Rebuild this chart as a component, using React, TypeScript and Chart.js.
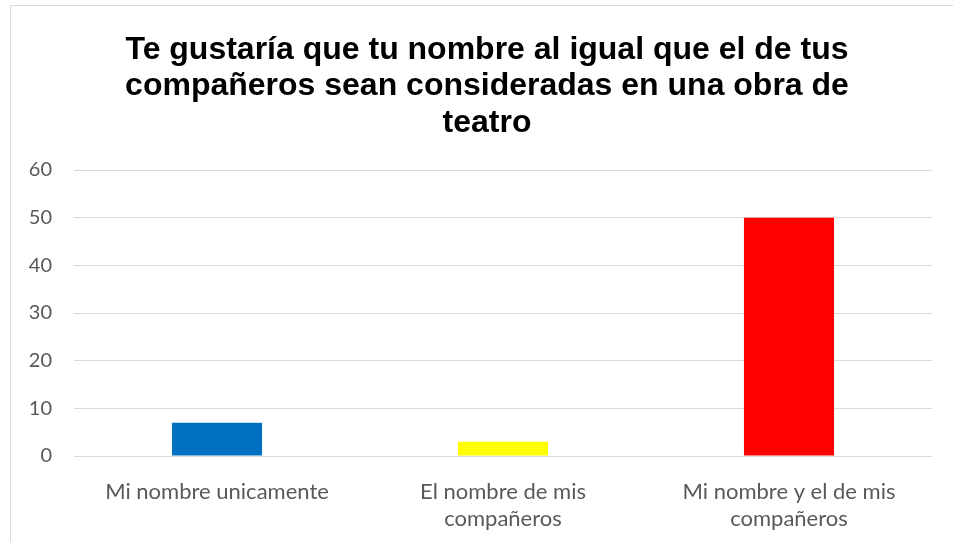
import { useEffect, useRef } from 'react';
import { Chart, registerables } from 'chart.js';

Chart.register(...registerables);

const categories: string[][] = [
  ['Mi nombre unicamente'],
  ['El nombre de mis', 'compañeros'],
  ['Mi nombre y el de mis', 'compañeros'],
];
const values: number[] = [7, 3, 50];
const barColors: string[] = ['#0070C0', '#FFFF00', '#FF0000'];
const titleLines: string[] = [
  'Te gustaría que tu nombre al igual que el de tus',
  'compañeros sean consideradas en una obra de',
  'teatro',
];
const yMin = 0;
const yMax = 60;
const yStep = 10;

const titlePlugin = {
  id: 'excelTitle',
  afterDraw(chart: any) {
    const ctx = chart.ctx;
    ctx.save();
    ctx.font = 'bold 32px "Liberation Sans", Arial, sans-serif';
    ctx.fillStyle = '#000000';
    ctx.textAlign = 'center';
    ctx.textBaseline = 'middle';
    titleLines.forEach((line, i) => {
      ctx.fillText(line, 487, 50 + i * 36.5);
    });
    ctx.restore();
  },
};

export default function App() {
  const ref = useRef<HTMLCanvasElement | null>(null);
  useEffect(() => {
    if (!ref.current) return;
    const chart = new Chart(ref.current, {
      type: 'bar',
      data: {
        labels: categories,
        datasets: [
          {
            data: values,
            backgroundColor: barColors,
            borderWidth: 0,
            barPercentage: 0.315,
            categoryPercentage: 1,
          },
        ],
      },
      options: {
        animation: false,
        responsive: false,
        maintainAspectRatio: false,
        layout: { padding: { left: 20, right: 21, top: 170, bottom: 0 } },
        plugins: {
          legend: { display: false },
          title: { display: false },
          tooltip: { enabled: false },
        },
        scales: {
          x: {
            grid: { display: false, drawTicks: false },
            border: { display: false },
            ticks: {
              color: '#595959',
              font: { family: 'Lato, "Noto Sans", sans-serif', size: 22, lineHeight: 1.227 },
              padding: 22,
              maxRotation: 0,
              autoSkip: false,
            },
            afterFit(scale: any) {
              scale.height = 86;
            },
          },
          y: {
            min: yMin,
            max: yMax,
            grid: { color: '#d9d9d9', lineWidth: 1, drawTicks: false },
            border: { display: false },
            ticks: {
              stepSize: yStep,
              color: '#595959',
              font: { family: 'Lato, "Noto Sans", sans-serif', size: 20 },
              padding: 22,
            },
            afterFit(scale: any) {
              scale.width = 54;
            },
          },
        },
      },
      plugins: [titlePlugin],
    });
    return () => chart.destroy();
  }, []);

  return (
    <div style={{ position: 'fixed', left: 0, top: 0, width: 953, height: 542, background: '#fff', overflow: 'hidden' }}>
      <div
        style={{
          position: 'absolute',
          left: 10,
          top: 5,
          width: 960,
          height: 560,
          border: '1px solid #d9d9d9',
          boxSizing: 'border-box',
        }}
      />
      <canvas ref={ref} width={953} height={542} style={{ position: 'absolute', left: 0, top: 0, display: 'block' }} />
    </div>
  );
}
